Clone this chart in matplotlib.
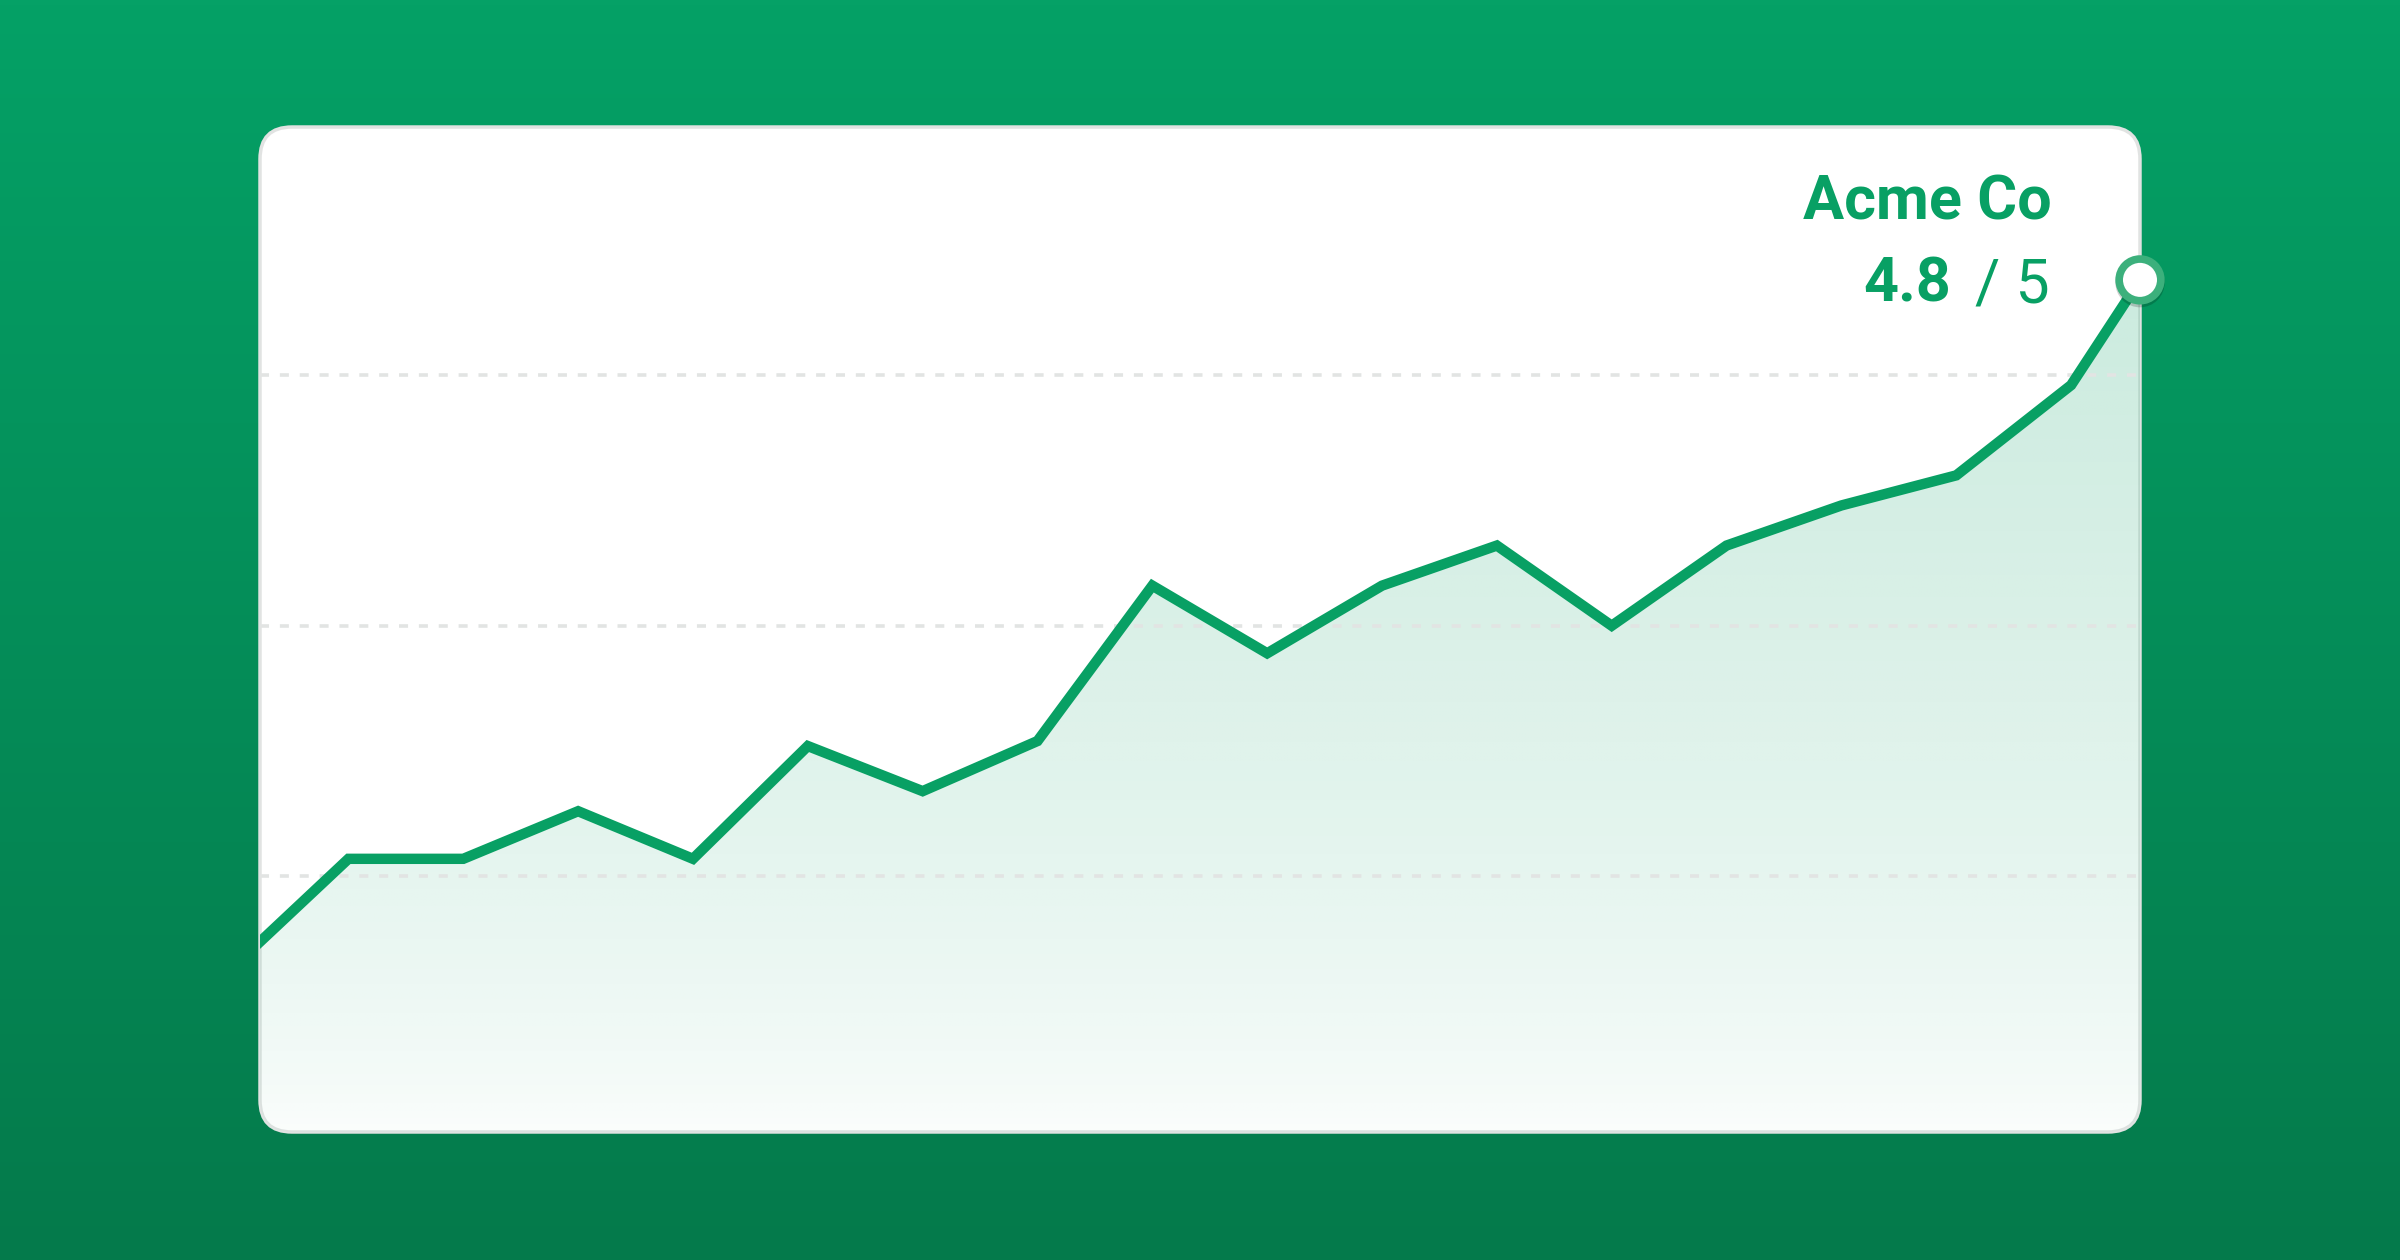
import matplotlib.pyplot as plt
import numpy as np
from matplotlib import patheffects
from matplotlib.patches import FancyBboxPatch
from matplotlib.colors import to_rgb

# values (score units, dashed gridlines at 1, 2, 3)
weeks = [0, 1, 2, 3, 4, 5, 6, 7, 8, 9, 10, 11, 12, 13, 14, 15, 16, 16.6]
scores = [0.64, 1.07, 1.07, 1.26, 1.07, 1.52, 1.34, 1.54, 2.16, 1.89,
          2.16, 2.32, 2.00, 2.32, 2.48, 2.60, 2.96, 3.38]
grid_levels = [1, 2, 3]
company = "Acme Co"
rating = "4.8"
rating_max = "5"

green = '#08a064'
ring = '#3cb07c'
bg_top = '#05a166'
bg_bottom = '#047a4b'
font = ['Roboto', 'DejaVu Sans']

fig = plt.figure(figsize=(24, 12.6), dpi=100)

# green gradient background, pixel coords
bg = fig.add_axes([0, 0, 1, 1])
bg.set_xlim(0, 2400)
bg.set_ylim(0, 1260)
bg.axis('off')
t = np.linspace(0, 1, 256)[:, None]
grad = np.array(to_rgb(bg_top)) * (1 - t) + np.array(to_rgb(bg_bottom)) * t
bg.imshow(grad[:, None, :], extent=[0, 2400, 0, 1260], aspect='auto', origin='upper')

# white card
card = FancyBboxPatch((260, 128), 1880, 1005, boxstyle='round,pad=0,rounding_size=32',
                      fc='white', ec='#e1e3e2', lw=2.5, zorder=2)
bg.add_patch(card)

# chart axes sit on the card
ax = fig.add_axes([260 / 2400, 128 / 1260, 1880 / 2400, 1005 / 1260])
ax.set_zorder(2)
ax.axis('off')
x0, x1 = 0.23, weeks[-1]
y0, y1 = -0.02, 3.99

for g in grid_levels:
    ax.axhline(g, color='#e2e4e3', lw=2.6, linestyle=(0, (2.5, 3.0)), zorder=2)

# gradient area under the line
xs = np.linspace(x0, x1, 1400)
ys = np.linspace(y0, y1, 900)
curve = np.interp(xs, weeks, scores)
XX, YY = np.meshgrid(xs, ys)
alpha = 0.02 + 0.19 * np.clip(YY / max(scores), 0, 1) ** 0.7
alpha = np.where(YY <= curve[None, :], alpha, 0)
rgba = np.zeros(YY.shape + (4,))
rgba[..., :3] = to_rgb(green)
rgba[..., 3] = alpha
im = ax.imshow(rgba, extent=[x0, x1, y0, y1], origin='lower', aspect='auto',
               zorder=1, interpolation='bilinear')
im.set_clip_path(card)

ax.plot(weeks, scores, color=green, lw=7.5, solid_joinstyle='miter', zorder=3)
ax.plot(weeks[-1], scores[-1], 'o', ms=30, mfc='white', mec=ring, mew=5.5,
        clip_on=False, zorder=5,
        path_effects=[patheffects.SimpleLineShadow(offset=(0, -2), alpha=0.18),
                      patheffects.Normal()])
ax.set_xlim(x0, x1)
ax.set_ylim(y0, y1)

fig.text(2052 / 2400, 1 - 220 / 1260, company, ha='right', va='baseline',
         fontsize=44, fontweight='bold', color=green, family=font)
fig.text(1863 / 2400, 1 - 302 / 1260, rating, ha='left', va='baseline',
         fontsize=44, fontweight='bold', color=green, family=font)
fig.text(2050 / 2400, 1 - 302 / 1260, '/ ' + rating_max, ha='right', va='baseline',
         fontsize=44, fontweight='normal', color=green, family=font)

plt.savefig('out.png', dpi=100)
